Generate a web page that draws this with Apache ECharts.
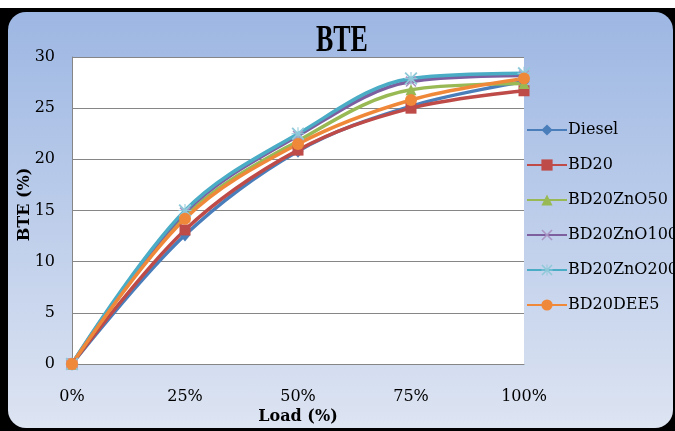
<!DOCTYPE html>
<html>
<head>
<meta charset="utf-8">
<script src="https://cdn.jsdelivr.net/npm/echarts@6/dist/echarts.min.js"></script>
<style>
  body { margin: 0; background: #fff; }
  #frame { position: absolute; left: 0; top: 8px; width: 675px; height: 423px; background: #000; }
  #panel { position: absolute; left: 8px; top: 12px; width: 665px; height: 416px;
           border-radius: 18px; background: linear-gradient(to bottom, #9db7e3, #dde4f2); }
  #main { position: absolute; left: 0; top: 0; width: 675px; height: 431px; }
</style>
</head>
<body>
<div id="frame"></div>
<div id="panel"></div>
<div id="main"></div>
<script>
// load steps on the x axis
var loads = ['0%', '25%', '50%', '75%', '100%'];

// BTE (%) per fuel
var diesel     = [0, 12.6, 20.8, 25.2, 27.6];
var bd20       = [0, 13.1, 20.9, 25.0, 26.7];
var bd20zno50  = [0, 14.4, 21.8, 26.8, 27.4];
var bd20zno100 = [0, 14.8, 22.3, 27.6, 28.2];
var bd20zno200 = [0, 15.0, 22.5, 27.9, 28.4];
var bd20dee5   = [0, 14.2, 21.5, 25.8, 27.9];

var serifFont = 'DejaVu Serif';

// thin cross and asterisk markers like the Excel ones
var crossPath = 'path://M0,1 L1,0 L5,4 L9,0 L10,1 L6,5 L10,9 L9,10 L5,6 L1,10 L0,9 L4,5 Z';
var starPath = 'path://M0,1 L1,0 L5,4 L9,0 L10,1 L6,5 L10,9 L9,10 L5,6 L1,10 L0,9 L4,5 Z ' +
               'M4.6,0 L5.4,0 L5.4,10 L4.6,10 Z M0,4.6 L10,4.6 L10,5.4 L0,5.4 Z';

function mk(name, data, color, symbol, size, symColor) {
  return {
    name: name,
    type: 'line',
    data: data,
    smooth: 0.35,
    symbol: symbol,
    symbolSize: size,
    lineStyle: { width: 3.5, color: color },
    itemStyle: { color: symColor || color },
    emphasis: { disabled: true }
  };
}

var chart = echarts.init(document.getElementById('main'));
chart.setOption({
  backgroundColor: 'transparent',
  animation: false,
  graphic: [{
    type: 'text',
    left: 316,
    top: 23,
    scaleX: 0.7,
    style: { text: 'BTE', font: 'bold 37px "Liberation Serif"', fill: '#000' }
  }],
  grid: {
    left: 72, right: 151, top: 57, bottom: 67,
    outerBoundsMode: 'none',
    show: true, backgroundColor: '#fff', borderWidth: 0
  },
  legend: {
    orient: 'vertical',
    left: 521,
    top: 117,
    itemWidth: 40,
    itemHeight: 14,
    itemGap: 19,
    textStyle: { fontFamily: serifFont, fontSize: 16, color: '#000', padding: [0, 0, 0, -4] },
    data: ['Diesel', 'BD20', 'BD20ZnO50', 'BD20ZnO100', 'BD20ZnO200', 'BD20DEE5']
  },
  xAxis: {
    type: 'category',
    data: loads,
    boundaryGap: false,
    name: 'Load (%)',
    nameLocation: 'middle',
    nameMoveOverlap: false,
    nameGap: 45,
    nameTextStyle: { fontFamily: serifFont, fontSize: 16, fontWeight: 'bold', color: '#000' },
    axisLine: { lineStyle: { color: '#868686' } },
    axisTick: { show: false },
    axisLabel: { fontFamily: serifFont, fontSize: 16, color: '#000', margin: 25 },
    splitLine: { show: false }
  },
  yAxis: {
    type: 'value',
    min: 0,
    max: 30,
    interval: 5,
    name: 'BTE (%)',
    nameLocation: 'middle',
    nameMoveOverlap: false,
    nameGap: 39,
    nameTextStyle: { fontFamily: serifFont, fontSize: 16, fontWeight: 'bold', color: '#000', padding: [0, 0, 0, 12] },
    axisLine: { show: true, lineStyle: { color: '#868686' } },
    axisTick: { show: false },
    axisLabel: { fontFamily: serifFont, fontSize: 16, color: '#000', margin: 17 },
    splitLine: { lineStyle: { color: '#868686' } }
  },
  series: [
    mk('Diesel', diesel, '#4a7ebb', 'diamond', [11, 13]),
    mk('BD20', bd20, '#be4b48', 'rect', 11),
    mk('BD20ZnO50', bd20zno50, '#98b954', 'triangle', 11),
    mk('BD20ZnO100', bd20zno100, '#7d5fa0', crossPath, 11, '#a995c4'),
    mk('BD20ZnO200', bd20zno200, '#4bacc6', starPath, 13, '#8fc9d9'),
    mk('BD20DEE5', bd20dee5, '#f0883a', 'circle', 12)
  ]
});
</script>
</body>
</html>
